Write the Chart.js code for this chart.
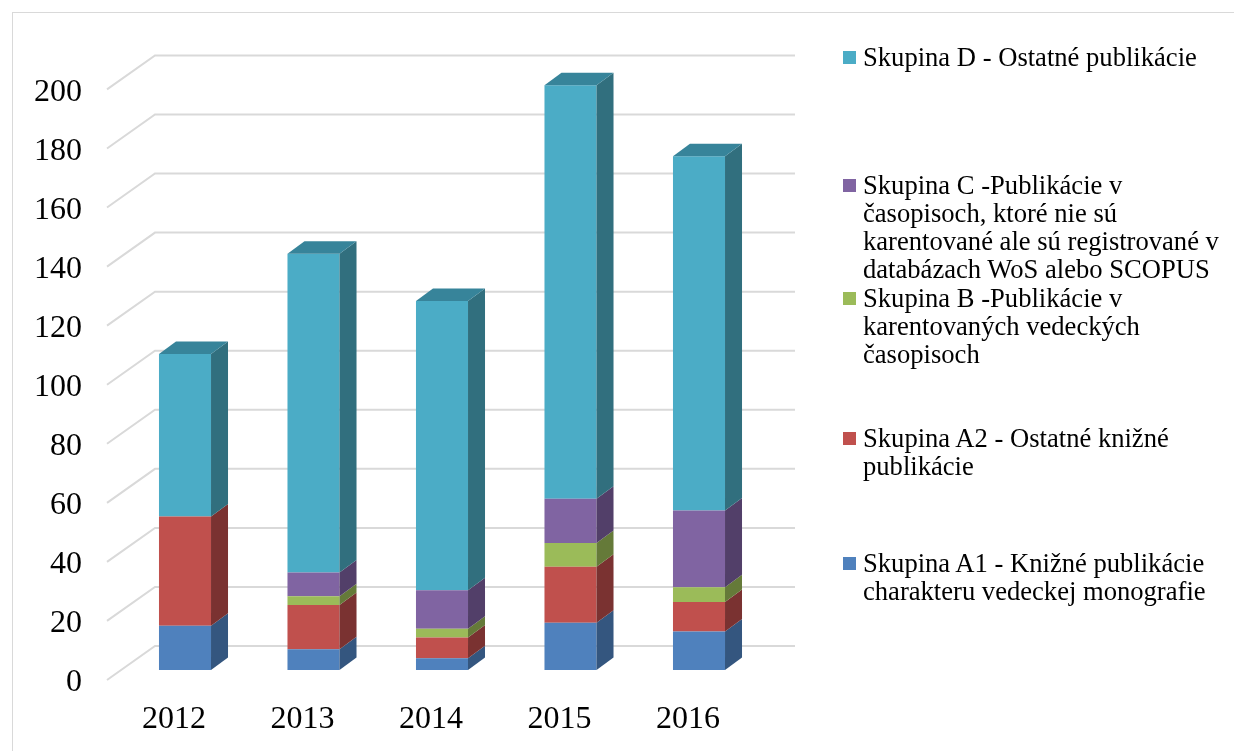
<!DOCTYPE html>
<html>
<head>
<meta charset="utf-8">
<script src="https://cdn.jsdelivr.net/npm/chart.js@4.4.0/dist/chart.umd.min.js"></script>
<style>
html, body { margin: 0; padding: 0; background: #fff; }
#wrap { position: relative; width: 1234px; height: 751px; overflow: hidden; }
#frame { position: absolute; left: 12px; top: 12px; width: 1260px; height: 780px; border: 1px solid #d9d9d9; box-sizing: border-box; }
#chart { position: absolute; left: 0; top: 0; }
#legend { position: absolute; left: 843px; top: 0; font-family: "Liberation Serif", "Times New Roman", serif; font-size: 26.6px; line-height: 28px; color: #000; }
.item { position: absolute; left: 0; white-space: nowrap; }
.box { position: absolute; left: 0; width: 13px; height: 13px; }
.txt { position: absolute; left: 20px; top: 0; }
</style>
</head>
<body>
<div id="wrap">
  <div id="frame"></div>
  <canvas id="chart" width="1234" height="751"></canvas>
  <div id="legend"></div>
</div>
<script>
// data
const years = ['2012', '2013', '2014', '2015', '2016'];
const skupinaA1 = [15, 7, 4, 16, 13];
const skupinaA2 = [37, 15, 7, 19, 10];
const skupinaB = [0, 3, 3, 8, 5];
const skupinaC = [0, 8, 13, 15, 26];
const skupinaD = [55, 108, 98, 140, 120];
const yTicks = [0, 20, 40, 60, 80, 100, 120, 140, 160, 180, 200];

const namesA1 = ['Skupina A1 - Knižné publikácie', 'charakteru vedeckej monografie'];
const namesA2 = ['Skupina A2 - Ostatné knižné', 'publikácie'];
const namesB = ['Skupina B -Publikácie v', 'karentovaných vedeckých', 'časopisoch'];
const namesC = ['Skupina C -Publikácie v', 'časopisoch, ktoré nie sú', 'karentované ale sú registrované v', 'databázach WoS alebo SCOPUS'];
const namesD = ['Skupina D - Ostatné publikácie'];

// farby: predna, bocna, horna stena
const frontCol = ['#4F81BD', '#C0504D', '#9BBB59', '#8064A2', '#4BACC6'];
const sideCol = ['#34567F', '#7A3231', '#657A39', '#523F69', '#316F7E'];
const topCol = ['#3F6A9C', '#9C4140', '#809C48', '#6A5388', '#37849A'];

const FONT = '"Liberation Serif", "Times New Roman", serif';
const DX = 17, DY = -12.5;      // hlbka stlpca
const AREA_L = 120.75, AREA_R = 763.25, AREA_T = 79.4, AREA_B = 670;

// 3D efekt: zadna stena, mriezka, bocne a horne steny stlpcov
const depth3d = {
  id: 'depth3d',
  beforeDatasetsDraw(chart) {
    const ctx = chart.ctx, y = chart.scales.y;
    ctx.save();
    ctx.strokeStyle = '#d9d9d9';
    ctx.lineWidth = 2;
    yTicks.forEach(v => {
      const yf = y.getPixelForValue(v);
      ctx.beginPath();
      ctx.moveTo(107, yf + 10);
      ctx.lineTo(155, yf - 24);
      ctx.lineTo(795, yf - 24);
      ctx.stroke();
    });
    ctx.restore();
  },
  afterDatasetsDraw(chart) {
    const ctx = chart.ctx;
    ctx.save();
    for (let i = 0; i < chart.data.labels.length; i++) {
      let topBar = null, topIdx = -1;
      chart.data.datasets.forEach((ds, d) => {
        if (!ds.data[i]) return;
        const bar = chart.getDatasetMeta(d).data[i];
        const p = bar.getProps(['x', 'y', 'base', 'width'], true);
        const r = p.x + p.width / 2;
        ctx.fillStyle = sideCol[d];
        ctx.beginPath();
        ctx.moveTo(r, p.y);
        ctx.lineTo(r + DX, p.y + DY);
        ctx.lineTo(r + DX, p.base + DY);
        ctx.lineTo(r, p.base);
        ctx.closePath();
        ctx.fill();
        topBar = p; topIdx = d;
      });
      if (topBar) {
        const l = topBar.x - topBar.width / 2, r = topBar.x + topBar.width / 2;
        ctx.fillStyle = topCol[topIdx];
        ctx.beginPath();
        ctx.moveTo(l, topBar.y);
        ctx.lineTo(l + DX, topBar.y + DY);
        ctx.lineTo(r + DX, topBar.y + DY);
        ctx.lineTo(r, topBar.y);
        ctx.closePath();
        ctx.fill();
      }
    }
    ctx.restore();
  }
};

const series = [skupinaA1, skupinaA2, skupinaB, skupinaC, skupinaD];
const names = [namesA1, namesA2, namesB, namesC, namesD];

new Chart(document.getElementById('chart'), {
  type: 'bar',
  data: {
    labels: years,
    datasets: series.map((vals, i) => ({
      label: names[i].join(' '),
      data: vals,
      backgroundColor: frontCol[i],
      borderWidth: 0,
      categoryPercentage: 1,
      barPercentage: 0.405
    }))
  },
  options: {
    responsive: false,
    animation: false,
    devicePixelRatio: 1,
    layout: { padding: { left: 12, right: 1234 - AREA_R, top: AREA_T, bottom: 0 } },
    plugins: { legend: { display: false }, tooltip: { enabled: false } },
    scales: {
      x: {
        stacked: true,
        grid: { display: false, drawTicks: false },
        border: { display: false },
        ticks: { color: '#000', font: { family: FONT, size: 32 }, padding: 30, labelOffset: -11 },
        afterFit(s) { s.height = 751 - AREA_B; }
      },
      y: {
        stacked: true,
        min: 0,
        max: 200,
        afterBuildTicks(s) { s.ticks = yTicks.map(v => ({ value: v })); },
        grid: { display: false, drawTicks: false },
        border: { display: false },
        ticks: { color: '#000', font: { family: FONT, size: 32 }, padding: 38.75, labelOffset: 13 },
        afterFit(s) { s.width = AREA_L - 12; }
      }
    }
  },
  plugins: [depth3d]
});

// legenda (poradie ako v povodnom grafe: D hore, A1 dole)
const legendOrder = [4, 3, 2, 1, 0];
const legendTops = [57, 185, 298, 438, 563];   // stred prveho riadku
const legend = document.getElementById('legend');
legendOrder.forEach((d, k) => {
  const item = document.createElement('div');
  item.className = 'item';
  item.style.top = (legendTops[k] - 14) + 'px';
  const box = document.createElement('div');
  box.className = 'box';
  box.style.background = frontCol[d];
  box.style.top = '8px';
  const txt = document.createElement('div');
  txt.className = 'txt';
  txt.innerHTML = names[d].join('<br>');
  item.appendChild(box);
  item.appendChild(txt);
  legend.appendChild(item);
});
</script>
</body>
</html>
